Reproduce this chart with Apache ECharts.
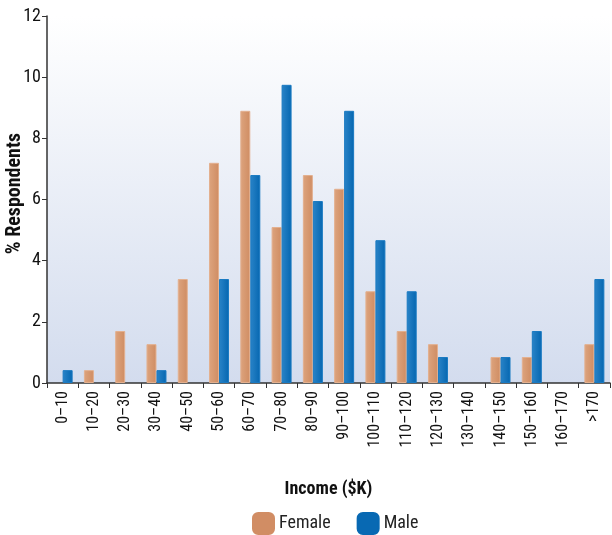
<!DOCTYPE html>
<html><head><meta charset="utf-8">
<script src="https://cdn.jsdelivr.net/npm/echarts@6/dist/echarts.min.js"></script>
<style>html,body{margin:0;padding:0;background:#fff}#c{width:612px;height:535px}</style>
</head><body><div id="c"></div>
<script>
const categories = ['0–10','10–20','20–30','30–40','40–50','50–60','60–70','70–80','80–90','90–100','100–110','110–120','120–130','130–140','140–150','150–160','160–170','>170'];
const female = [0, 0.42, 1.7, 1.27, 3.4, 7.2, 8.9, 5.1, 6.8, 6.35, 3.0, 1.7, 1.27, 0, 0.85, 0.85, 0, 1.27];
const male = [0.42, 0, 0, 0.42, 0, 3.4, 6.8, 9.75, 5.95, 8.9, 4.67, 3.0, 0.85, 0, 0.85, 1.7, 0, 3.4];
const yTicks = [0, 2, 4, 6, 8, 10, 12];
const FONT = '"Liberation Sans Narrow", "Roboto Condensed", "DejaVu Sans Condensed", sans-serif';
const hideZero = arr => arr.map(v => v === 0 ? null : v);
const chart = echarts.init(document.getElementById('c'));
chart.setOption({
  animation: false,
  backgroundColor: '#fff',
  grid: {left: 47, right: 2, top: 16, bottom: 152, show: true, borderWidth: 0, outerBoundsMode: 'none', containLabel: false,
    backgroundColor: new echarts.graphic.LinearGradient(0, 0, 0, 1, [{offset: 0, color: '#ffffff'}, {offset: 1, color: '#d3dcee'}])},
  legend: {top: 512, left: 252, padding: 0, itemWidth: 21, itemHeight: 21, itemGap: 26,
    textStyle: {fontFamily: FONT, fontSize: 18, color: '#222'},
    data: [{name: 'Female', itemStyle: {color: '#d18d64', borderColor: '#d18d64'}}, {name: 'Male', itemStyle: {color: '#0869b3', borderColor: '#0869b3'}}]},
  xAxis: {type: 'category', data: categories,
    name: 'Income ($K)', nameLocation: 'middle', nameGap: 97, nameMoveOverlap: false,
    nameTextStyle: {fontFamily: FONT, fontSize: 18, fontWeight: 'bold', color: '#111'},
    axisLine: {lineStyle: {color: '#333', width: 1.5}},
    axisTick: {show: true, alignWithLabel: false, length: 5, lineStyle: {color: '#333'}},
    axisLabel: {rotate: 90, fontFamily: FONT, fontSize: 16, color: '#111', margin: 8, interval: 0}},
  yAxis: {type: 'value', min: 0, max: 12, interval: 2,
    name: '% Respondents', nameLocation: 'middle', nameGap: 22, nameRotate: 90, nameMoveOverlap: false,
    nameTextStyle: {fontFamily: FONT, fontSize: 20, fontWeight: 'bold', color: '#111', padding: [0, 0, 0, 12]},
    axisLine: {show: true, lineStyle: {color: '#333', width: 1.5}},
    axisTick: {show: true, length: 5, lineStyle: {color: '#333'}},
    splitLine: {show: false},
    axisLabel: {fontFamily: FONT, fontSize: 18, color: '#111', margin: 6,
      formatter: v => yTicks.includes(v) ? String(v) : ''}},
  series: [
    {name: 'Female', type: 'bar', data: hideZero(female), barWidth: 10, barGap: '0%',
      itemStyle: {color: new echarts.graphic.LinearGradient(0,0,1,0,[{offset:0,color:'#dda47e'},{offset:1,color:'#cf8c62'}]), borderColor: '#e3b08f', borderWidth: 1}},
    {name: 'Male', type: 'bar', data: hideZero(male), barWidth: 10,
      itemStyle: {color: new echarts.graphic.LinearGradient(0,0,1,0,[{offset:0,color:'#2a84c8'},{offset:1,color:'#0566b0'}]), borderColor: '#1a7ac2', borderWidth: 1}}
  ]
});
</script></body></html>
